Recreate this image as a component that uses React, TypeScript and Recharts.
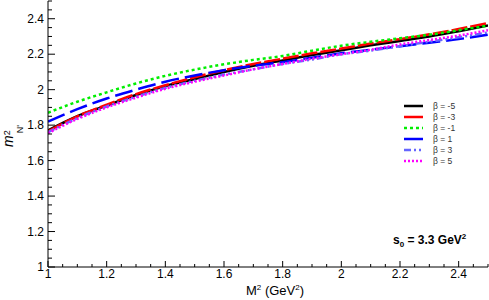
import React from "react";
import { Line, LineChart, XAxis, YAxis } from "recharts";

// M^2 grid (GeV^2)
const m2 = [1.0, 1.1, 1.2, 1.3, 1.4, 1.5, 1.6, 1.7, 1.8, 1.9, 2.0, 2.1, 2.2, 2.3, 2.4, 2.5];

// m_N'^2 for each beta
const betaM5 = [1.77, 1.85, 1.91, 1.97, 2.02, 2.06, 2.1, 2.135, 2.165, 2.195, 2.222, 2.25, 2.275, 2.3, 2.33, 2.362];
const betaM3 = [1.765, 1.85, 1.915, 1.975, 2.025, 2.07, 2.11, 2.145, 2.175, 2.205, 2.232, 2.26, 2.285, 2.312, 2.342, 2.375];
const betaM1 = [1.87, 1.932, 1.985, 2.035, 2.078, 2.113, 2.143, 2.168, 2.19, 2.22, 2.248, 2.27, 2.29, 2.31, 2.335, 2.362];
const betaP1 = [1.82, 1.89, 1.95, 2.0, 2.045, 2.08, 2.11, 2.135, 2.155, 2.18, 2.205, 2.225, 2.245, 2.265, 2.285, 2.31];
const betaP3 = [1.76, 1.84, 1.905, 1.96, 2.01, 2.05, 2.085, 2.115, 2.145, 2.17, 2.2, 2.22, 2.245, 2.27, 2.295, 2.322];
const betaP5 = [1.755, 1.835, 1.9, 1.955, 2.005, 2.045, 2.08, 2.115, 2.145, 2.175, 2.2, 2.225, 2.255, 2.28, 2.305, 2.335];

const series = [
  { key: "bm5", label: "β = -5", values: betaM5, color: "#000000", dash: undefined, legendDash: undefined },
  { key: "bm3", label: "β = -3", values: betaM3, color: "#ff0000", dash: "16 3", legendDash: undefined },
  { key: "bm1", label: "β = -1", values: betaM1, color: "#00ee00", dash: "3 3", legendDash: "3 3" },
  { key: "bp1", label: "β = 1", values: betaP1, color: "#0000ff", dash: "18 6", legendDash: undefined },
  { key: "bp3", label: "β = 3", values: betaP3, color: "#6666ff", dash: "7 3 2 3 2 3", legendDash: "7 3 2 3 2 3" },
  { key: "bp5", label: "β = 5", values: betaP5, color: "#ff00ff", dash: "2 2", legendDash: "2 2" },
];

const data = m2.map((x, i) => {
  const row: Record<string, number> = { m2: x };
  series.forEach((s) => {
    row[s.key] = s.values[i];
  });
  return row;
});

// ticks every 0.05, labels every 0.2
const allTicks = Array.from({ length: 31 }, (_, i) => +(1 + i * 0.05).toFixed(2));
const isMajor = (v: number) => Math.abs(v * 5 - Math.round(v * 5)) < 1e-6;

const FONT = "'Liberation Sans', Arial, Helvetica, sans-serif";

const xTick = (dir: number, withLabel: boolean) => (props: any) => {
  const { x, y, payload } = props;
  const major = isMajor(payload.value);
  const len = major ? 6 : 3;
  return (
    <g>
      <line x1={x} x2={x} y1={y} y2={y - dir * len} stroke="#000" strokeWidth={1} />
      {withLabel && major && (
        <text x={x} y={y + 11} textAnchor="middle" fontSize={12} fontFamily={FONT} fill="#000">
          {payload.value}
        </text>
      )}
    </g>
  );
};

const yTick = (dir: number, withLabel: boolean) => (props: any) => {
  const { x, y, payload } = props;
  const major = isMajor(payload.value);
  const len = major ? 7 : 4;
  return (
    <g>
      <line x1={x} x2={x + dir * len} y1={y} y2={y} stroke="#000" strokeWidth={1} />
      {withLabel && major && (
        <text x={x - 4} y={y + 4} textAnchor="end" fontSize={12} fontFamily={FONT} fill="#000">
          {payload.value}
        </text>
      )}
    </g>
  );
};

export default function App() {
  return (
    <div style={{ position: "absolute", left: 0, top: 0, width: 489, height: 300, background: "#fff" }}>
      <LineChart
        width={489}
        height={300}
        data={data}
        margin={{ top: 1, right: 1, bottom: 3, left: 0 }}
      >
        <XAxis
          xAxisId="b"
          dataKey="m2"
          type="number"
          domain={[1, 2.5]}
          ticks={allTicks}
          interval={0}
          allowDataOverflow
          height={30}
          tickSize={0}
          tickMargin={0}
          tick={xTick(1, true)}
          axisLine={{ stroke: "#000" }}
        />
        <XAxis
          xAxisId="t"
          orientation="top"
          dataKey="m2"
          type="number"
          domain={[1, 2.5]}
          ticks={allTicks}
          interval={0}
          height={0}
          tickSize={0}
          tickMargin={0}
          tick={xTick(-1, false)}
          axisLine={{ stroke: "#000" }}
        />
        <YAxis
          yAxisId="l"
          type="number"
          domain={[1, 2.5]}
          ticks={allTicks}
          interval={0}
          allowDataOverflow
          width={48}
          tickSize={0}
          tickMargin={0}
          tick={yTick(1, true)}
          axisLine={{ stroke: "#000" }}
        />
        <YAxis
          yAxisId="r"
          orientation="right"
          type="number"
          domain={[1, 2.5]}
          ticks={allTicks}
          interval={0}
          width={0}
          tickSize={0}
          tickMargin={0}
          tick={yTick(-1, false)}
          axisLine={{ stroke: "#000" }}
        />
        {series.map((s) => (
          <Line
            key={s.key}
            xAxisId="b"
            yAxisId="l"
            type="monotone"
            dataKey={s.key}
            stroke={s.color}
            strokeWidth={2.5}
            strokeDasharray={s.dash}
            dot={false}
            isAnimationActive={false}
          />
        ))}
      </LineChart>
      <svg
        width={489}
        height={300}
        style={{ position: "absolute", left: 0, top: 0, pointerEvents: "none" }}
        fontFamily={FONT}
      >
        {/* y title */}
        <text transform="translate(13,147) rotate(-90)" fontSize={14} fill="#000">
          <tspan fontStyle="italic">m</tspan>
          <tspan fontSize={9} dy={-3}>2</tspan>
          <tspan fontSize={9} dx={-3} dy={13}>N'</tspan>
        </text>
        {/* x title */}
        <text x={246} y={295} fontSize={13} fill="#000">
          M<tspan fontSize={8} dy={-5}>2</tspan>
          <tspan dy={5}> (GeV</tspan>
          <tspan fontSize={8} dy={-5}>2</tspan>
          <tspan dy={5}>)</tspan>
        </text>
        {/* s0 annotation */}
        <text x={393} y={244} fontSize={12} fontWeight="bold" fill="#000">
          s<tspan fontSize={8} dy={3}>0</tspan>
          <tspan dy={-3}> = 3.3 GeV</tspan>
          <tspan fontSize={8} dy={-5}>2</tspan>
        </text>
        {/* legend */}
        {series.map((s, i) => {
          const y = 106 + i * 11;
          return (
            <g key={s.key}>
              <line x1={404} x2={423} y1={y} y2={y} stroke={s.color} strokeWidth={2.5} strokeDasharray={s.legendDash} />
              <text x={433} y={y + 3} fontSize={8.5} fill="#333">
                {s.label}
              </text>
            </g>
          );
        })}
      </svg>
    </div>
  );
}
